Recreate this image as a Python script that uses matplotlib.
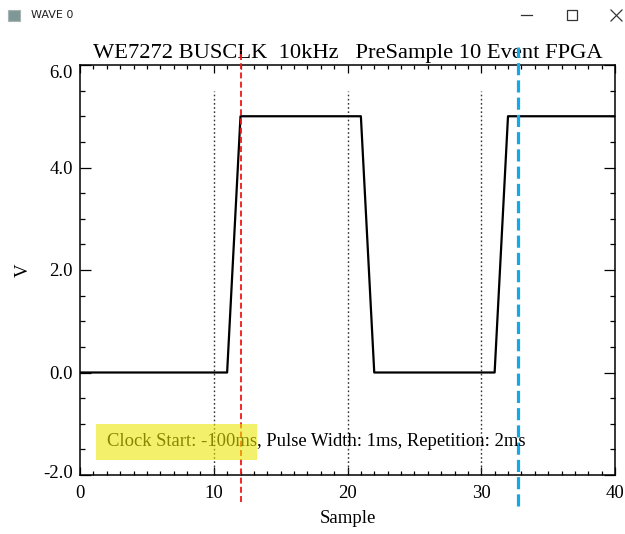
import matplotlib
matplotlib.use("Agg")
import matplotlib.pyplot as plt
import matplotlib.transforms as mtransforms
from matplotlib.patches import Rectangle
from matplotlib.lines import Line2D
from matplotlib.ticker import MultipleLocator

# ---- data ----
samples = list(range(0, 41))
levels = [0.0] * 12 + [5.0] * 10 + [0.0] * 10 + [5.0] * 9   # samples 0..40
marker_x = [10, 20, 30]
marker_top = 5.5
red_cursor = 12.07
blue_cursor = 32.75
title = "WE7272 BUSCLK  10kHz   PreSample 10 Event FPGA"
note = "Clock Start: -100ms, Pulse Width: 1ms, Repetition: 2ms"
xticks = [0, 10, 20, 30, 40]
yticks = [-2.0, 0.0, 2.0, 4.0, 6.0]

serif = ["Liberation Serif", "DejaVu Serif"]

W, H = 625, 534
fig = plt.figure(figsize=(W / 100, H / 100), dpi=100)
fig.patch.set_facecolor("white")

L, R, T, B = 80, 615, 65, 475
ax = fig.add_axes([L / W, 1 - B / H, (R - L) / W, (B - T) / H])
ax.set_xlim(0, 40)
ax.set_ylim(-2, 6)

# vertical markers
for xm in marker_x:
    ax.plot([xm, xm], [-2, marker_top], color="#333333", lw=1.0,
            linestyle=(0, (1.2, 1.8)), zorder=2)

# waveform
ax.plot(samples, levels, color="black", lw=1.6, zorder=3)

# cursors (extend beyond axes)
ax.plot([red_cursor, red_cursor], [-2.53, 6.3], color="#f01818", lw=1.3,
        linestyle=(0, (3.3, 1.8)), clip_on=False, zorder=4)
ax.plot([blue_cursor, blue_cursor], [-2.6, 6.35], color="#13a8e8", lw=2.3,
        linestyle=(0, (3.8, 1.6)), clip_on=False, zorder=4)

# annotation text
ax.text(2.0, -1.34, note, fontsize=13.4, family=serif, color="black",
        va="center", ha="left", zorder=5)
# highlighter
ax.add_patch(Rectangle((1.2, -1.7), 12.05, 0.69, facecolor="#ece800",
                       edgecolor="none", alpha=0.58, zorder=6))

# ticks
ax.set_xticks(xticks)
ax.set_xticklabels([str(v) for v in xticks])
ax.set_yticks(yticks)
ax.set_yticklabels([f"{v:.1f}" for v in yticks])
ax.xaxis.set_minor_locator(MultipleLocator(1))
ax.yaxis.set_minor_locator(MultipleLocator(0.5))
ax.tick_params(axis="x", which="major", direction="in", length=5.8, width=0.9,
               top=True, bottom=True, pad=7, labelsize=13.5)
ax.tick_params(axis="x", which="minor", direction="in", length=2.9, width=0.9,
               top=True, bottom=True)
ax.tick_params(axis="y", which="major", direction="in", length=7.7, width=0.9,
               left=True, right=True, pad=5, labelsize=13.5)
ax.tick_params(axis="y", which="minor", direction="in", length=3.8, width=0.9,
               left=True, right=True)
for lab in ax.get_xticklabels() + ax.get_yticklabels():
    lab.set_family(serif)
# end labels sit slightly inside the axis range
ylabs = ax.get_yticklabels()
ylabs[-1].set_transform(ylabs[-1].get_transform() +
                        mtransforms.ScaledTranslation(0, -6 / 100, fig.dpi_scale_trans))
ylabs[0].set_transform(ylabs[0].get_transform() +
                       mtransforms.ScaledTranslation(0, 3 / 100, fig.dpi_scale_trans))
for s in ax.spines.values():
    s.set_linewidth(1.1)

ax.set_xlabel("Sample", fontsize=13.5, family=serif, labelpad=6)
ax.set_ylabel("V", fontsize=13.5, family=serif, labelpad=8)
ax.set_title(title, fontsize=16.2, family=serif, pad=5)

# window chrome
fig.patches.append(Rectangle((8 / W, 1 - 21 / H), 12 / W, 11 / H,
                             transform=fig.transFigure, facecolor="#7f9896",
                             edgecolor="#a8b4b4", lw=0.8))
fig.text(31 / W, 1 - 15 / H, "WAVE 0", fontsize=8, family="DejaVu Sans",
         va="center", ha="left", color="#222222")
fig.lines.append(Line2D([521 / W, 532 / W], [1 - 15 / H, 1 - 15 / H],
                        transform=fig.transFigure, color="#333", lw=0.9))
fig.patches.append(Rectangle((567 / W, 1 - 20 / H), 10 / W, 10 / H,
                             transform=fig.transFigure, facecolor="none",
                             edgecolor="#333", lw=0.9))
fig.lines.append(Line2D([611 / W, 622 / W], [1 - 10 / H, 1 - 21 / H],
                        transform=fig.transFigure, color="#333", lw=0.9))
fig.lines.append(Line2D([611 / W, 622 / W], [1 - 21 / H, 1 - 10 / H],
                        transform=fig.transFigure, color="#333", lw=0.9))

fig.savefig("out.png", dpi=100)
